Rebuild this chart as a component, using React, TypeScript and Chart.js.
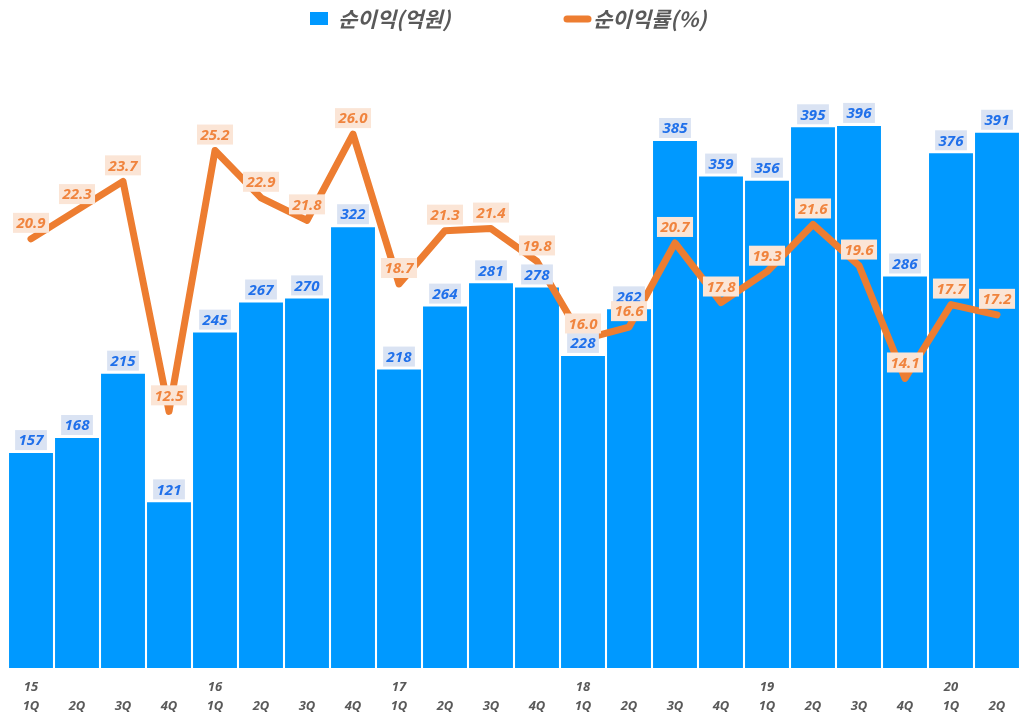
import { useEffect, useRef } from "react";
import { Chart, registerables } from "chart.js";

Chart.register(...registerables);

const years = ["15", "", "", "", "16", "", "", "", "17", "", "", "", "18", "", "", "", "19", "", "", "", "20", ""];
const quarters = ["1Q", "2Q", "3Q", "4Q", "1Q", "2Q", "3Q", "4Q", "1Q", "2Q", "3Q", "4Q", "1Q", "2Q", "3Q", "4Q", "1Q", "2Q", "3Q", "4Q", "1Q", "2Q"];
const netIncome = [157, 168, 215, 121, 245, 267, 270, 322, 218, 264, 281, 278, 228, 262, 385, 359, 356, 395, 396, 286, 376, 391];
const netMargin = [20.9, 22.3, 23.7, 12.5, 25.2, 22.9, 21.8, 26.0, 18.7, 21.3, 21.4, 19.8, 16.0, 16.6, 20.7, 17.8, 19.3, 21.6, 19.6, 14.1, 17.7, 17.2];
const seriesNames = ["순이익(억원)", "순이익률(%)"];

const BAR_COLOR = "#0099ff";
const LINE_COLOR = "#ed7d31";
const LABEL_FONT = "italic bold 15px 'Open Sans', 'Noto Sans', sans-serif";
const LEGEND_FONT = "italic bold 21px 'Noto Sans CJK KR', 'Noto Sans', sans-serif";

const dataLabelPlugin = {
  id: "dataLabels",
  afterDatasetsDraw(chart: any) {
    const ctx = chart.ctx;
    ctx.save();
    ctx.font = LABEL_FONT;
    ctx.textAlign = "center";
    ctx.textBaseline = "middle";
    const barMeta = chart.getDatasetMeta(0);
    barMeta.data.forEach((el: any, i: number) => {
      const txt = String(netIncome[i]);
      const w = ctx.measureText(txt).width + 7;
      const h = 20;
      const cx = el.x;
      const cy = el.y - 13;
      ctx.fillStyle = "#dae3f3";
      ctx.fillRect(cx - w / 2, cy - h / 2, w, h);
      ctx.fillStyle = "#2070ea";
      ctx.fillText(txt, cx, cy + 1);
    });
    const lineMeta = chart.getDatasetMeta(1);
    lineMeta.data.forEach((el: any, i: number) => {
      const txt = netMargin[i].toFixed(1);
      const w = ctx.measureText(txt).width + 7;
      const h = 20;
      const cx = el.x;
      const cy = el.y - 16;
      ctx.fillStyle = "#fbe5d6";
      ctx.fillRect(cx - w / 2, cy - h / 2, w, h);
      ctx.fillStyle = "#f0843e";
      ctx.fillText(txt, cx, cy + 1);
    });
    ctx.restore();
  },
};

const legendPlugin = {
  id: "customLegend",
  afterDraw(chart: any) {
    const ctx = chart.ctx;
    ctx.save();
    ctx.font = LEGEND_FONT;
    ctx.textBaseline = "middle";
    ctx.textAlign = "left";
    const cy = 19;
    ctx.fillStyle = BAR_COLOR;
    ctx.fillRect(310, cy - 7, 18, 13);
    ctx.fillStyle = "#595959";
    ctx.fillText(seriesNames[0], 338, cy);
    ctx.strokeStyle = LINE_COLOR;
    ctx.lineWidth = 7;
    ctx.lineCap = "round";
    ctx.beginPath();
    ctx.moveTo(567, cy);
    ctx.lineTo(588, cy);
    ctx.stroke();
    ctx.fillStyle = "#595959";
    ctx.fillText(seriesNames[1], 593, cy);
    ctx.restore();
  },
};

export default function App() {
  const ref = useRef<HTMLCanvasElement | null>(null);

  useEffect(() => {
    document.body.style.margin = "0";
    const canvas = ref.current;
    if (!canvas) return;
    const chart = new Chart(canvas, {
      type: "bar",
      data: {
        labels: years.map((y, i) => [y, quarters[i]]),
        datasets: [
          {
            type: "bar",
            label: seriesNames[0],
            data: netIncome,
            backgroundColor: BAR_COLOR,
            borderWidth: 0,
            categoryPercentage: 1,
            barPercentage: 0.955,
            yAxisID: "y",
            order: 1,
          },
          {
            type: "line",
            label: seriesNames[1],
            data: netMargin,
            borderColor: LINE_COLOR,
            backgroundColor: LINE_COLOR,
            borderWidth: 7,
            pointRadius: 0,
            pointHoverRadius: 0,
            borderCapStyle: "round",
            borderJoinStyle: "round",
            tension: 0,
            yAxisID: "y1",
            order: 0,
          },
        ],
      } as any,
      options: {
        animation: false,
        responsive: false,
        maintainAspectRatio: false,
        layout: { padding: { top: 52, left: 8, right: 4, bottom: 0 } },
        plugins: {
          legend: { display: false },
          tooltip: { enabled: false },
        },
        scales: {
          x: {
            grid: { display: false, drawTicks: false },
            border: { display: false },
            ticks: {
              padding: 10,
              color: "#595959",
              font: { family: "'Open Sans', 'Noto Sans', sans-serif", size: 13, style: "italic", weight: "bold", lineHeight: 1.45 },
              maxRotation: 0,
              autoSkip: false,
            },
            afterFit: (scale: any) => {
              scale.height = 55;
            },
          },
          y: { display: false, min: 0, max: 450 },
          y1: { display: false, min: 0, max: 30, position: "right" },
        },
      } as any,
      plugins: [dataLabelPlugin, legendPlugin],
    });
    return () => chart.destroy();
  }, []);

  return (
    <div style={{ width: 1024, height: 723, background: "#fff" }}>
      <canvas ref={ref} width={1024} height={723} style={{ display: "block" }} />
    </div>
  );
}
